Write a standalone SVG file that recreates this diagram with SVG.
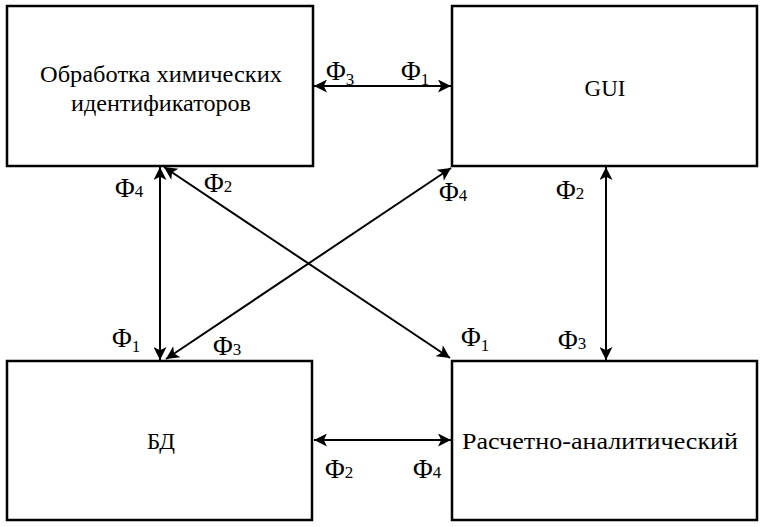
<svg xmlns="http://www.w3.org/2000/svg" width="765" height="527" viewBox="0 0 765 527">
<style>
.box{fill:#fff;stroke:#000;stroke-width:2.5}
.lbl{font-family:"Liberation Serif",serif;font-size:23px;fill:#000;text-anchor:middle}
.f{font-family:"Liberation Serif",serif;font-size:27px;fill:#000}
.s{font-size:17px}
.c{stroke:#000;stroke-width:2;fill:none;marker-start:url(#a);marker-end:url(#a)}
</style>
<defs>
<marker id="a" viewBox="0 0 10 10" refX="10" refY="5" markerWidth="7.5" markerHeight="6.5" orient="auto-start-reverse" markerUnits="strokeWidth">
<path d="M0,0 L10,5 L0,10 L2.5,5 Z" fill="#000"/>
</marker>
</defs>
<rect width="765" height="527" fill="#fff"/>
<g id="n1"><rect class="box" x="7" y="6" width="306" height="160"/>
<text class="lbl" x="161" y="82" textLength="242" lengthAdjust="spacingAndGlyphs">Обработка химических</text>
<text class="lbl" x="161" y="111" textLength="180" lengthAdjust="spacingAndGlyphs">идентификаторов</text></g>
<g id="n2"><rect class="box" x="452" y="6" width="305" height="160"/>
<text class="lbl" x="605" y="96">GUI</text></g>
<g id="n3"><rect class="box" x="7" y="361" width="305" height="159"/>
<text class="lbl" x="161" y="449">БД</text></g>
<g id="n4"><rect class="box" x="452" y="361" width="305" height="159"/>
<text class="lbl" x="600" y="449" textLength="276" lengthAdjust="spacingAndGlyphs">Расчетно-аналитический</text></g>
<g id="connectors">
<line class="c" x1="314" y1="86" x2="451" y2="86"/>
<line class="c" x1="314" y1="440" x2="451" y2="440"/>
<line class="c" x1="160" y1="167" x2="160" y2="360"/>
<line class="c" x1="606" y1="167" x2="606" y2="360"/>
<line class="c" x1="164" y1="167" x2="450" y2="358"/>
<line class="c" x1="451" y1="168" x2="166" y2="359"/>
</g>
<g id="labels">
<text class="f" x="326" y="80">Φ<tspan class="s" dy="5">3</tspan></text>
<text class="f" x="401" y="80">Φ<tspan class="s" dy="5">1</tspan></text>
<text class="f" x="115" y="197">Φ<tspan class="s">4</tspan></text>
<text class="f" x="204" y="192">Φ<tspan class="s">2</tspan></text>
<text class="f" x="439" y="201">Φ<tspan class="s">4</tspan></text>
<text class="f" x="556" y="199">Φ<tspan class="s">2</tspan></text>
<text class="f" x="112" y="347">Φ<tspan class="s" dy="5">1</tspan></text>
<text class="f" x="213" y="355">Φ<tspan class="s">3</tspan></text>
<text class="f" x="461" y="346">Φ<tspan class="s" dy="5">1</tspan></text>
<text class="f" x="558" y="349">Φ<tspan class="s">3</tspan></text>
<text class="f" x="325" y="478">Φ<tspan class="s">2</tspan></text>
<text class="f" x="413" y="478">Φ<tspan class="s">4</tspan></text>
</g>
</svg>
